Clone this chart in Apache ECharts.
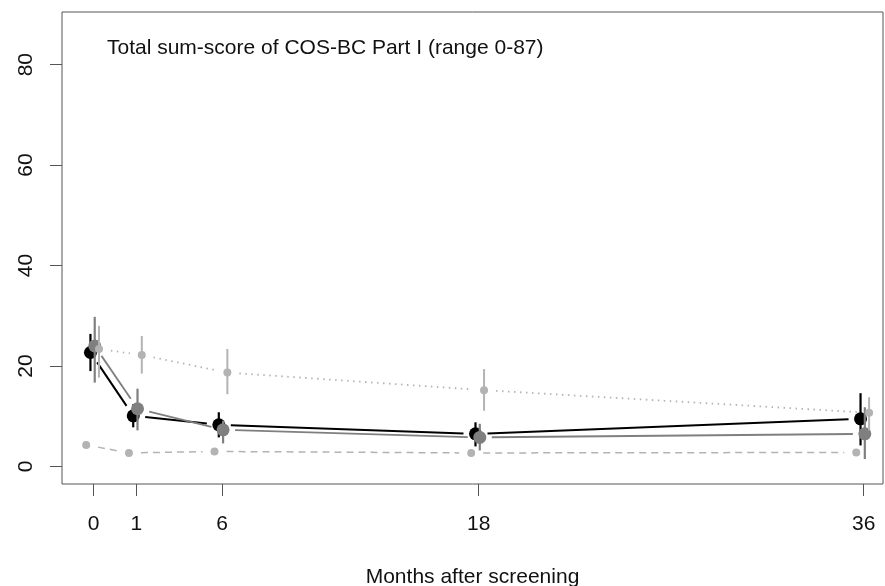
<!DOCTYPE html>
<html>
<head>
<meta charset="utf-8">
<script src="https://cdn.jsdelivr.net/npm/echarts@6/dist/echarts.min.js"></script>
<style>
html,body{margin:0;padding:0;background:#fff;}
#chart{width:885px;height:586px;}
</style>
</head>
<body>
<div id="chart"></div>
<script>
// ---- data ----
const xPos = [0, 2, 6, 18, 36];           // plotting positions of the visits
const xLabels = ['0', '1', '6', '18', '36']; // months after screening
const yTicks = [0, 20, 40, 60, 80];

const blackMean = [22.7, 10.1, 8.3, 6.5, 9.5];
const blackLow  = [19.0, 7.8, 5.8, 4.0, 4.2];
const blackHigh = [26.4, 12.4, 10.8, 8.8, 14.6];

const darkMean = [24.0, 11.5, 7.3, 5.8, 6.5];
const darkLow  = [16.7, 7.2, 4.6, 3.2, 1.5];
const darkHigh = [29.8, 15.5, 9.1, 8.5, 11.8];

const lightMean = [23.4, 22.2, 18.7, 15.2, 10.7];
const lightLow  = [17.7, 18.5, 14.4, 11.1, 7.2];
const lightHigh = [28.0, 26.0, 23.4, 19.4, 13.8];

const dashMean = [4.3, 2.7, 3.0, 2.7, 2.8];

// horizontal dodge of each group
const offDash = -0.35, offBlack = -0.15, offDark = 0.05, offLight = 0.25;

// ---- helpers ----
function pts(mean, off) { return mean.map((v, i) => [xPos[i] + off, v]); }
function segs(mean, off) {
  const out = [];
  for (let i = 0; i < mean.length - 1; i++) out.push([xPos[i] + off, mean[i], xPos[i + 1] + off, mean[i + 1]]);
  return out;
}
function bars(low, high, off) { return low.map((l, i) => [xPos[i] + off, l, high[i]]); }

const GAP = 12;
function lineSeries(mean, off, color, width, dash, z) {
  return {
    type: 'custom', z: z, silent: true,
    data: segs(mean, off),
    encode: { x: [0, 2], y: [1, 3] },
    renderItem: function (params, api) {
      const a = api.coord([api.value(0), api.value(1)]);
      const b = api.coord([api.value(2), api.value(3)]);
      const dx = b[0] - a[0], dy = b[1] - a[1];
      const len = Math.sqrt(dx * dx + dy * dy);
      if (len <= 2 * GAP) return null;
      const ux = dx / len, uy = dy / len;
      return {
        type: 'line',
        shape: { x1: a[0] + ux * GAP, y1: a[1] + uy * GAP, x2: b[0] - ux * GAP, y2: b[1] - uy * GAP },
        style: { stroke: color, lineWidth: width, lineDash: dash, lineCap: 'butt' }
      };
    }
  };
}
function barSeries(low, high, off, color, width, z) {
  return {
    type: 'custom', z: z, silent: true,
    data: bars(low, high, off),
    encode: { x: 0, y: [1, 2] },
    renderItem: function (params, api) {
      const a = api.coord([api.value(0), api.value(1)]);
      const b = api.coord([api.value(0), api.value(2)]);
      return {
        type: 'line',
        shape: { x1: a[0], y1: a[1], x2: b[0], y2: b[1] },
        style: { stroke: color, lineWidth: width }
      };
    }
  };
}
function pointSeries(mean, off, color, size, z) {
  return {
    type: 'scatter', z: z, silent: true,
    data: pts(mean, off),
    symbol: 'circle', symbolSize: size,
    itemStyle: { color: color, opacity: 1 }
  };
}

const cBlack = '#000000', cDark = '#7f7f7f', cLight = '#b3b3b3';
const FONT = 'Liberation Sans, Arial, sans-serif';
const FS = 21;

const chart = echarts.init(document.getElementById('chart'), null, { renderer: 'canvas' });
chart.setOption({
  animation: false,
  backgroundColor: '#ffffff',
  title: {
    text: 'Total sum-score of COS-BC Part I (range 0-87)',
    left: 107, top: 38, padding: 0,
    textStyle: { fontFamily: FONT, fontSize: FS, fontWeight: 'normal', color: '#111' }
  },
  grid: {
    left: 62, right: 2, top: 12, bottom: 102,
    outerBoundsMode: 'none', containLabel: false,
    show: true, borderColor: '#555', borderWidth: 1, backgroundColor: 'transparent'
  },
  xAxis: {
    type: 'value', min: -1.48, max: 36.9,
    splitLine: { show: false },
    axisLine: { show: false, onZero: false },
    axisTick: { show: true, length: 12, lineStyle: { color: '#555' }, customValues: xPos },
    axisLabel: {
      customValues: xPos, margin: 30,
      fontFamily: FONT, fontSize: FS, color: '#111',
      formatter: function (v) { const i = xPos.indexOf(v); return i >= 0 ? xLabels[i] : ''; }
    },
    name: 'Months after screening', nameLocation: 'middle', nameGap: 83,
    nameTextStyle: { fontFamily: FONT, fontSize: FS, color: '#111' }
  },
  yAxis: {
    type: 'value', min: -3.48, max: 90.48,
    splitLine: { show: false },
    axisLine: { show: false, onZero: false },
    axisTick: { show: true, length: 12, lineStyle: { color: '#555' }, customValues: yTicks },
    axisLabel: {
      customValues: yTicks, rotate: 90, margin: 25,
      fontFamily: FONT, fontSize: FS, color: '#111'
    }
  },
  series: [
    lineSeries(dashMean, offDash, cLight, 1.5, [7, 5], 2),
    pointSeries(dashMean, offDash, cLight, 8, 3),

    lineSeries(blackMean, offBlack, cBlack, 2, null, 4),
    barSeries(blackLow, blackHigh, offBlack, cBlack, 2.2, 5),
    pointSeries(blackMean, offBlack, cBlack, 13, 6),

    lineSeries(darkMean, offDark, cDark, 1.8, null, 7),
    barSeries(darkLow, darkHigh, offDark, cDark, 2.2, 8),
    pointSeries(darkMean, offDark, cDark, 13, 9),

    lineSeries(lightMean, offLight, cLight, 1.8, [1.5, 4.5], 10),
    barSeries(lightLow, lightHigh, offLight, cLight, 2, 11),
    pointSeries(lightMean, offLight, cLight, 8, 12)
  ]
});
</script>
</body>
</html>
